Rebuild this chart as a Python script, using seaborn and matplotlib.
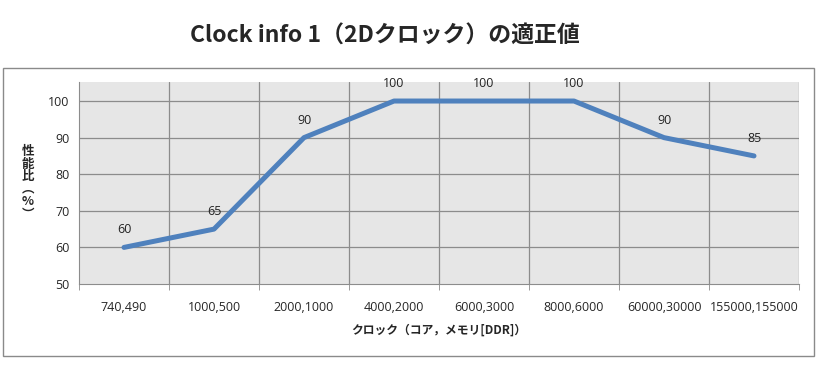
import matplotlib
matplotlib.use("Agg")
import matplotlib.pyplot as plt
import seaborn as sns
import pandas as pd
from matplotlib.patches import Rectangle

# chart data
clocks = ["740,490", "1000,500", "2000,1000", "4000,2000",
          "6000,3000", "8000,6000", "60000,30000", "155000,155000"]
perf = [60, 65, 90, 100, 100, 100, 90, 85]
y_ticks = [50, 60, 70, 80, 90, 100]

title = "Clock info 1（2Dクロック）の適正値"
x_label = "クロック（コア，メモリ[DDR]）"
y_label = "性\n能\n比\n︵\n%\n︶"

sns.set_style("white")
plt.rcParams['font.family'] = ['Noto Sans CJK JP', 'DejaVu Sans']

df = pd.DataFrame({"idx": range(len(clocks)), "perf": perf})

fig = plt.figure(figsize=(8.16, 3.70), dpi=100)
ax = fig.add_axes([79 / 816, 86 / 370, 720 / 816, 202 / 370])

# outer chart border
fig.patches.append(Rectangle((3 / 816, 14 / 370), 811 / 816, 288 / 370,
                             transform=fig.transFigure, fill=False,
                             edgecolor="#8a8a8a", linewidth=1))

ax.set_facecolor("#e6e6e6")
sns.lineplot(data=df, x="idx", y="perf", ax=ax, color="#4f81bd",
             linewidth=3.6, solid_capstyle="round", zorder=3)

for i, v in enumerate(perf):
    ax.annotate(str(v), (i, v), xytext=(0, 8), textcoords="offset points",
                ha="center", va="bottom", fontsize=9, family="Open Sans",
                color="#222222")

ax.set_xlim(-0.5, len(clocks) - 0.5)
ax.set_ylim(50, 105.2)
ax.set_yticks(y_ticks)
ax.set_xticks(range(len(clocks)))
ax.set_xticklabels(clocks, fontsize=9, family="Open Sans")
ax.set_yticklabels([str(t) for t in y_ticks], fontsize=9, family="Open Sans")
ax.set_xticks([i + 0.5 for i in range(-1, len(clocks))], minor=True)

ax.grid(False)
for t in y_ticks[1:]:
    ax.axhline(t, color="#8c8c8c", linewidth=0.9, zorder=1)
for xb in [i + 0.5 for i in range(len(clocks))]:
    ax.axvline(xb, color="#8c8c8c", linewidth=0.9, zorder=1)

ax.tick_params(axis="x", which="major", length=0, pad=12)
ax.tick_params(axis="x", which="minor", length=4, color="#8c8c8c", direction="out")
ax.tick_params(axis="y", length=4, color="#8c8c8c", direction="out", pad=3)
ax.xaxis.set_tick_params(bottom=True, which="minor")

for side in ["top", "right"]:
    ax.spines[side].set_visible(False)
ax.spines["left"].set_color("#8c8c8c")
ax.spines["bottom"].set_color("#8c8c8c")

ax.set_xlabel(x_label, fontsize=8.5, fontweight="bold", labelpad=7)
ax.set_ylabel("")
fig.text(28 / 816, 1 - 183 / 370, y_label, fontsize=9, fontweight="bold",
         ha="center", va="center", linespacing=0.95)

fig.text(385 / 816, 1 - 36 / 370, title, fontsize=16.5, fontweight="bold",
         ha="center", va="center")

fig.savefig("out.png", dpi=100)
